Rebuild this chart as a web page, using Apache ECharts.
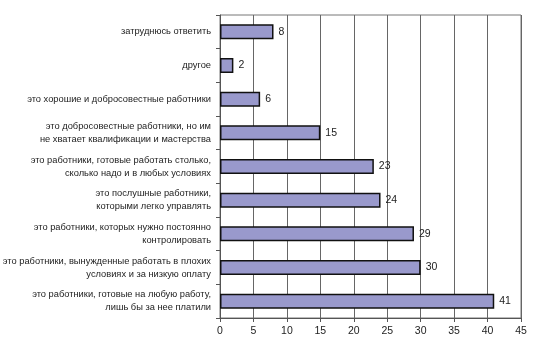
<!DOCTYPE html>
<html><head><meta charset="utf-8">
<script src="https://cdn.jsdelivr.net/npm/echarts@6/dist/echarts.min.js"></script>
<style>html,body{margin:0;padding:0;background:#fff}#c{width:534px;height:346px}</style>
</head><body><div id="c"></div>
<script>
const categories = [
  "это работники, готовые на любую работу,\nлишь бы за нее платили",
  "это работники, вынужденные работать в плохих\nусловиях и за низкую оплату",
  "это работники, которых нужно постоянно\nконтролировать",
  "это послушные работники,\nкоторыми легко управлять",
  "это работники, готовые работать столько,\nсколько надо и в любых условиях",
  "это добросовестные работники, но им\nне хватает квалификации и мастерства",
  "это хорошие и добросовестные работники",
  "другое",
  "затруднюсь ответить"
];
const values = [41, 30, 29, 24, 23, 15, 6, 2, 8];
const xTicks = [0, 5, 10, 15, 20, 25, 30, 35, 40, 45];

const font = "'Liberation Sans Narrow','Arial Narrow','Liberation Sans',sans-serif";
const chart = echarts.init(document.getElementById('c'));
chart.setOption({
  animation: false,
  grid: { left: 220, right: 13, top: 15, bottom: 28, show: true, borderColor: '#777', borderWidth: 1,
          containLabel: false, outerBoundsMode: 'none' },
  xAxis: {
    type: 'value', min: xTicks[0], max: xTicks[xTicks.length - 1], interval: 5,
    axisLine: { show: true, lineStyle: { color: '#555' } },
    axisTick: { show: true, length: 4, lineStyle: { color: '#555' } },
    axisLabel: { color: '#222', fontFamily: font, fontSize: 10.5, margin: 8 },
    splitLine: { show: true, lineStyle: { color: '#666', width: 1 } }
  },
  yAxis: {
    type: 'category', data: categories,
    axisLine: { show: true, lineStyle: { color: '#555' } },
    axisTick: { show: true, length: 4, lineStyle: { color: '#555' } },
    axisLabel: { color: '#222', fontFamily: font, fontSize: 9.3, margin: 9, lineHeight: 13, align: 'right' },
    splitLine: { show: false }
  },
  series: [{
    type: 'bar', data: values, barWidth: 15,
    itemStyle: { color: '#9999cc', borderColor: '#111', borderWidth: 1.5 },
    label: { show: true, position: 'right', distance: 5, color: '#222', fontFamily: font, fontSize: 10.5 }
  }]
});
</script></body></html>
